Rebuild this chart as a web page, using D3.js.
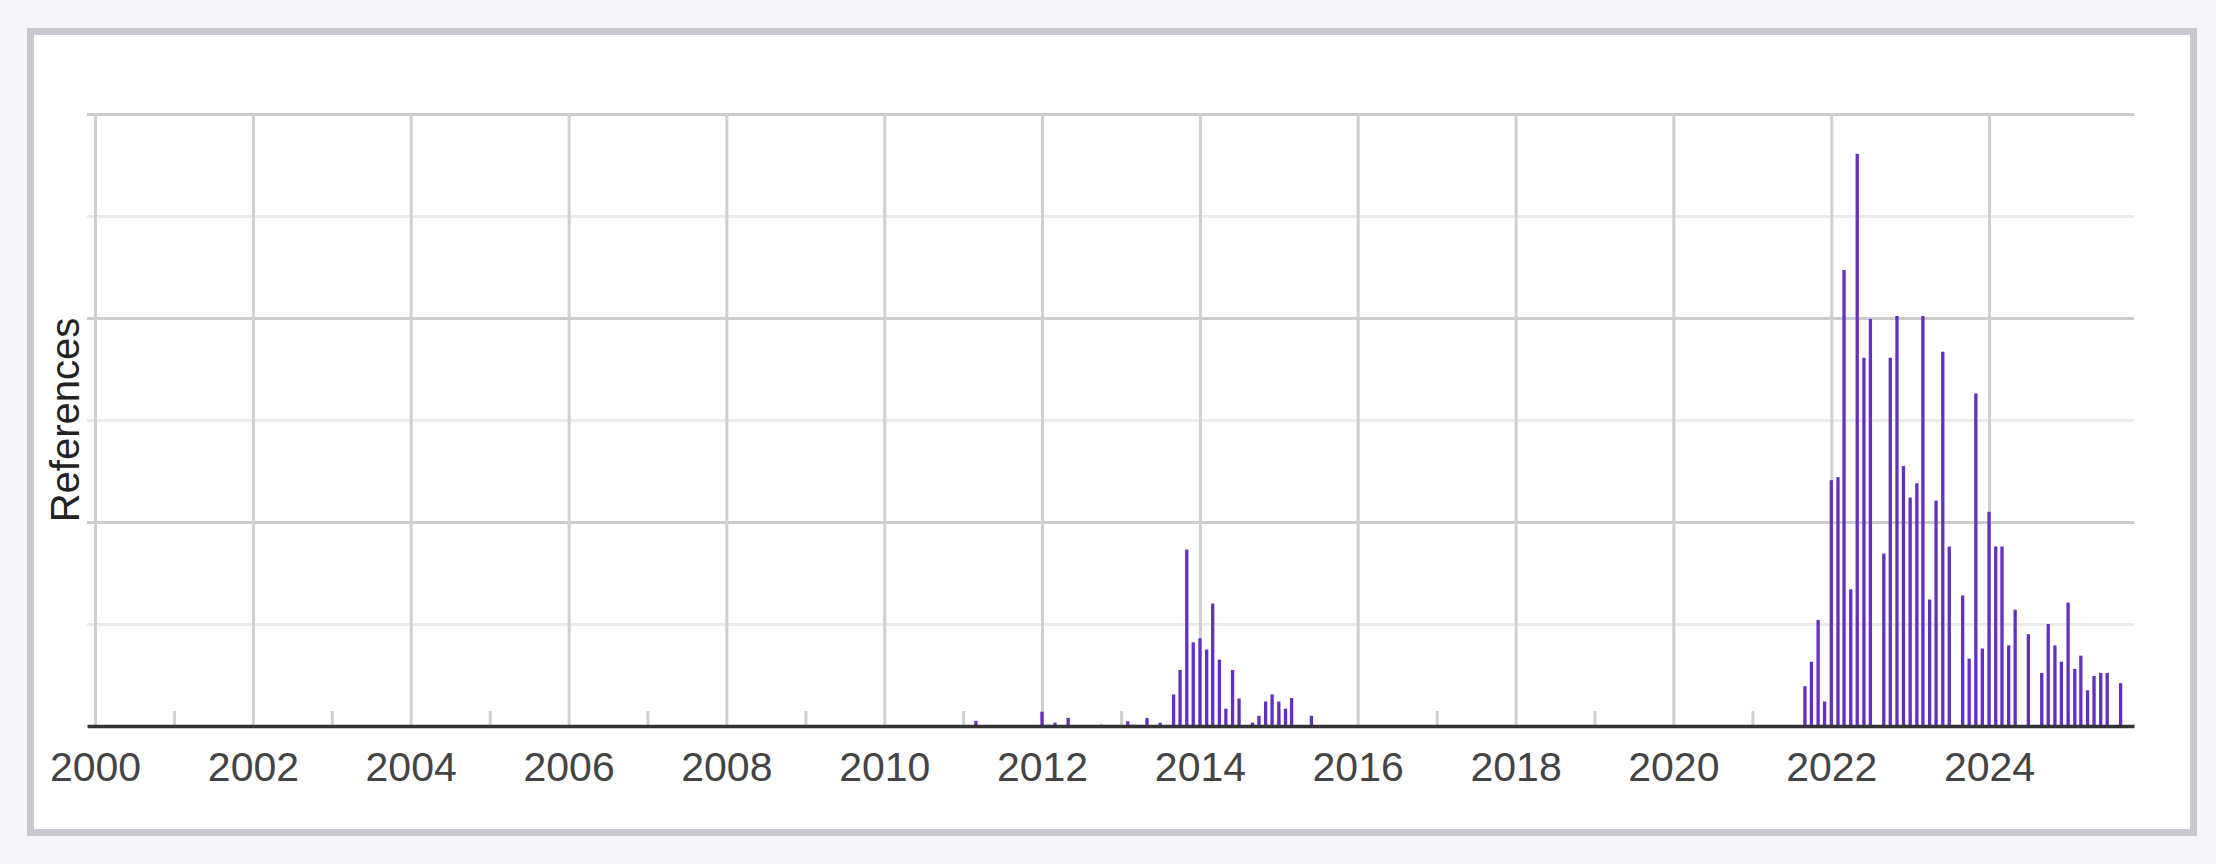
<!DOCTYPE html>
<html>
<head>
<meta charset="utf-8">
<script src="https://cdn.jsdelivr.net/npm/d3@7"></script>
<style>
  html, body { margin: 0; padding: 0; background: #f7f6fa; }
  svg { display: block; }
</style>
</head>
<body>
<svg id="chart" width="2216" height="864"></svg>
<script>
// ---- data (monthly counts, months without bars are zero) ----
const months = [
  "2011-02","2011-03","2011-10",
  "2012-01","2012-02","2012-03","2012-05","2012-10","2012-12",
  "2013-02","2013-03","2013-04","2013-05","2013-07","2013-09","2013-10","2013-11","2013-12",
  "2014-01","2014-02","2014-03","2014-04","2014-05","2014-06","2014-07","2014-09","2014-10","2014-11","2014-12",
  "2015-01","2015-02","2015-03","2015-06","2015-09",
  "2016-02","2016-04",
  "2017-10","2017-11","2017-12",
  "2018-04",
  "2021-09","2021-10","2021-11","2021-12",
  "2022-01","2022-02","2022-03","2022-04","2022-05","2022-06","2022-07","2022-09","2022-10","2022-11","2022-12",
  "2023-01","2023-02","2023-03","2023-04","2023-05","2023-06","2023-07","2023-09","2023-10","2023-11","2023-12",
  "2024-01","2024-02","2024-03","2024-04","2024-05","2024-07","2024-09","2024-10","2024-11","2024-12",
  "2025-01","2025-02","2025-03","2025-04","2025-05","2025-06","2025-07","2025-09","2025-10"
];
const references = [
  0.05, 0.5, 0.05,
  1.4, 0.13, 0.33, 0.8, 0.13, 0.05,
  0.46, 0.13, 0.05, 0.78, 0.33, 3.1, 5.5, 17.3, 8.2,
  8.6, 7.5, 12.0, 6.5, 1.7, 5.5, 2.7, 0.33, 1.0, 2.4, 3.1,
  2.4, 1.7, 2.75, 1.0, 0.1,
  0.1, 0.04,
  0.04, 0.1, 0.04,
  0.04,
  3.9, 6.3, 10.4, 2.4,
  24.1, 24.4, 44.7, 13.4, 56.1, 36.1, 39.9, 16.9, 36.1, 40.2, 25.5,
  22.4, 23.8, 40.2, 12.4, 22.1, 36.7, 17.6, 12.8, 6.6, 32.6, 7.6,
  21.0, 17.6, 17.6, 7.9, 11.4, 9.0, 5.2, 10.0, 7.9, 6.3,
  12.1, 5.6, 6.9, 3.5, 4.9, 5.2, 5.2, 4.2, 0.04
];
const labelYears = [2000, 2002, 2004, 2006, 2008, 2010, 2012, 2014, 2016, 2018, 2020, 2022, 2024];
const minorYears = [2001, 2003, 2005, 2007, 2009, 2011, 2013, 2015, 2017, 2019, 2021, 2023, 2025];
const yMajorTicks = [20, 40, 60];
const yMinorTicks = [10, 30, 50];
const yMax = 60;
const yTitle = "References";

// ---- layout ----
const svg = d3.select("#chart");
const plotLeft = 87, plotRight = 2134, plotTop = 114, plotBottom = 726;
const parseMonth = d3.timeParse("%Y-%m");

// panel
svg.append("rect")
  .attr("x", 30.5).attr("y", 31.5)
  .attr("width", 2163).attr("height", 801)
  .attr("fill", "#ffffff")
  .attr("stroke", "#cac9cf")
  .attr("stroke-width", 7);

const x = d3.scaleTime()
  .domain([new Date(1999, 10, 25), new Date(2025, 10, 2)])
  .range([plotLeft, plotRight]);
const y = d3.scaleLinear().domain([0, yMax]).range([plotBottom, plotTop]);

// horizontal grid (minor then major)
const hMinor = svg.append("g")
  .attr("transform", `translate(${plotLeft},0)`)
  .call(d3.axisLeft(y).tickValues(yMinorTicks).tickSize(-(plotRight - plotLeft)).tickFormat(""));
hMinor.select(".domain").remove();
hMinor.selectAll("line").attr("stroke", "#ebebeb").attr("stroke-width", 3);

const hMajor = svg.append("g")
  .attr("transform", `translate(${plotLeft},0)`)
  .call(d3.axisLeft(y).tickValues(yMajorTicks).tickSize(-(plotRight - plotLeft)).tickFormat(""));
hMajor.select(".domain").remove();
hMajor.selectAll("line").attr("stroke", "#cccccc").attr("stroke-width", 3);

// vertical grid at even years
const vGrid = svg.append("g")
  .attr("transform", `translate(0,${plotBottom})`)
  .call(d3.axisBottom(x).tickValues(labelYears.map(yr => new Date(yr, 0, 1)))
    .tickSize(-(plotBottom - plotTop)).tickFormat(""));
vGrid.select(".domain").remove();
vGrid.selectAll("line").attr("stroke", "#d0d0d0").attr("stroke-width", 3);

// minor ticks at odd years
const vMinor = svg.append("g")
  .attr("transform", `translate(0,${plotBottom})`)
  .call(d3.axisBottom(x).tickValues(minorYears.map(yr => new Date(yr, 0, 1))
      .filter(d => x(d) <= plotRight)).tickSize(-15).tickFormat(""));
vMinor.select(".domain").remove();
vMinor.selectAll("line").attr("stroke", "#d0d0d0").attr("stroke-width", 3);

// bars
const barW = 3.3;
const data = months.map((m, i) => ({ date: parseMonth(m), value: references[i] }));
svg.append("g")
  .selectAll("rect")
  .data(data)
  .join("rect")
  .attr("x", d => x(d.date) - barW / 2)
  .attr("y", d => y(d.value))
  .attr("width", barW)
  .attr("height", d => y(0) - y(d.value))
  .attr("fill", "#6331bd");

// bottom axis line + labels
const xAxis = svg.append("g")
  .attr("transform", `translate(0,${plotBottom})`)
  .call(d3.axisBottom(x).tickValues(labelYears.map(yr => new Date(yr, 0, 1)))
    .tickSize(0).tickPadding(26).tickFormat(d3.timeFormat("%Y")));
xAxis.select(".domain")
  .attr("stroke", "#333333").attr("stroke-width", 3.3);
xAxis.selectAll("text")
  .attr("fill", "#444444")
  .style("font-family", "'Liberation Sans', Arial, sans-serif")
  .style("font-size", "41px");

// y title
svg.append("text")
  .attr("transform", `translate(79,${(plotTop + plotBottom) / 2}) rotate(-90)`)
  .attr("text-anchor", "middle")
  .attr("fill", "#222222")
  .style("font-family", "'Liberation Sans', Arial, sans-serif")
  .style("font-size", "40px")
  .text(yTitle);
</script>
</body>
</html>
